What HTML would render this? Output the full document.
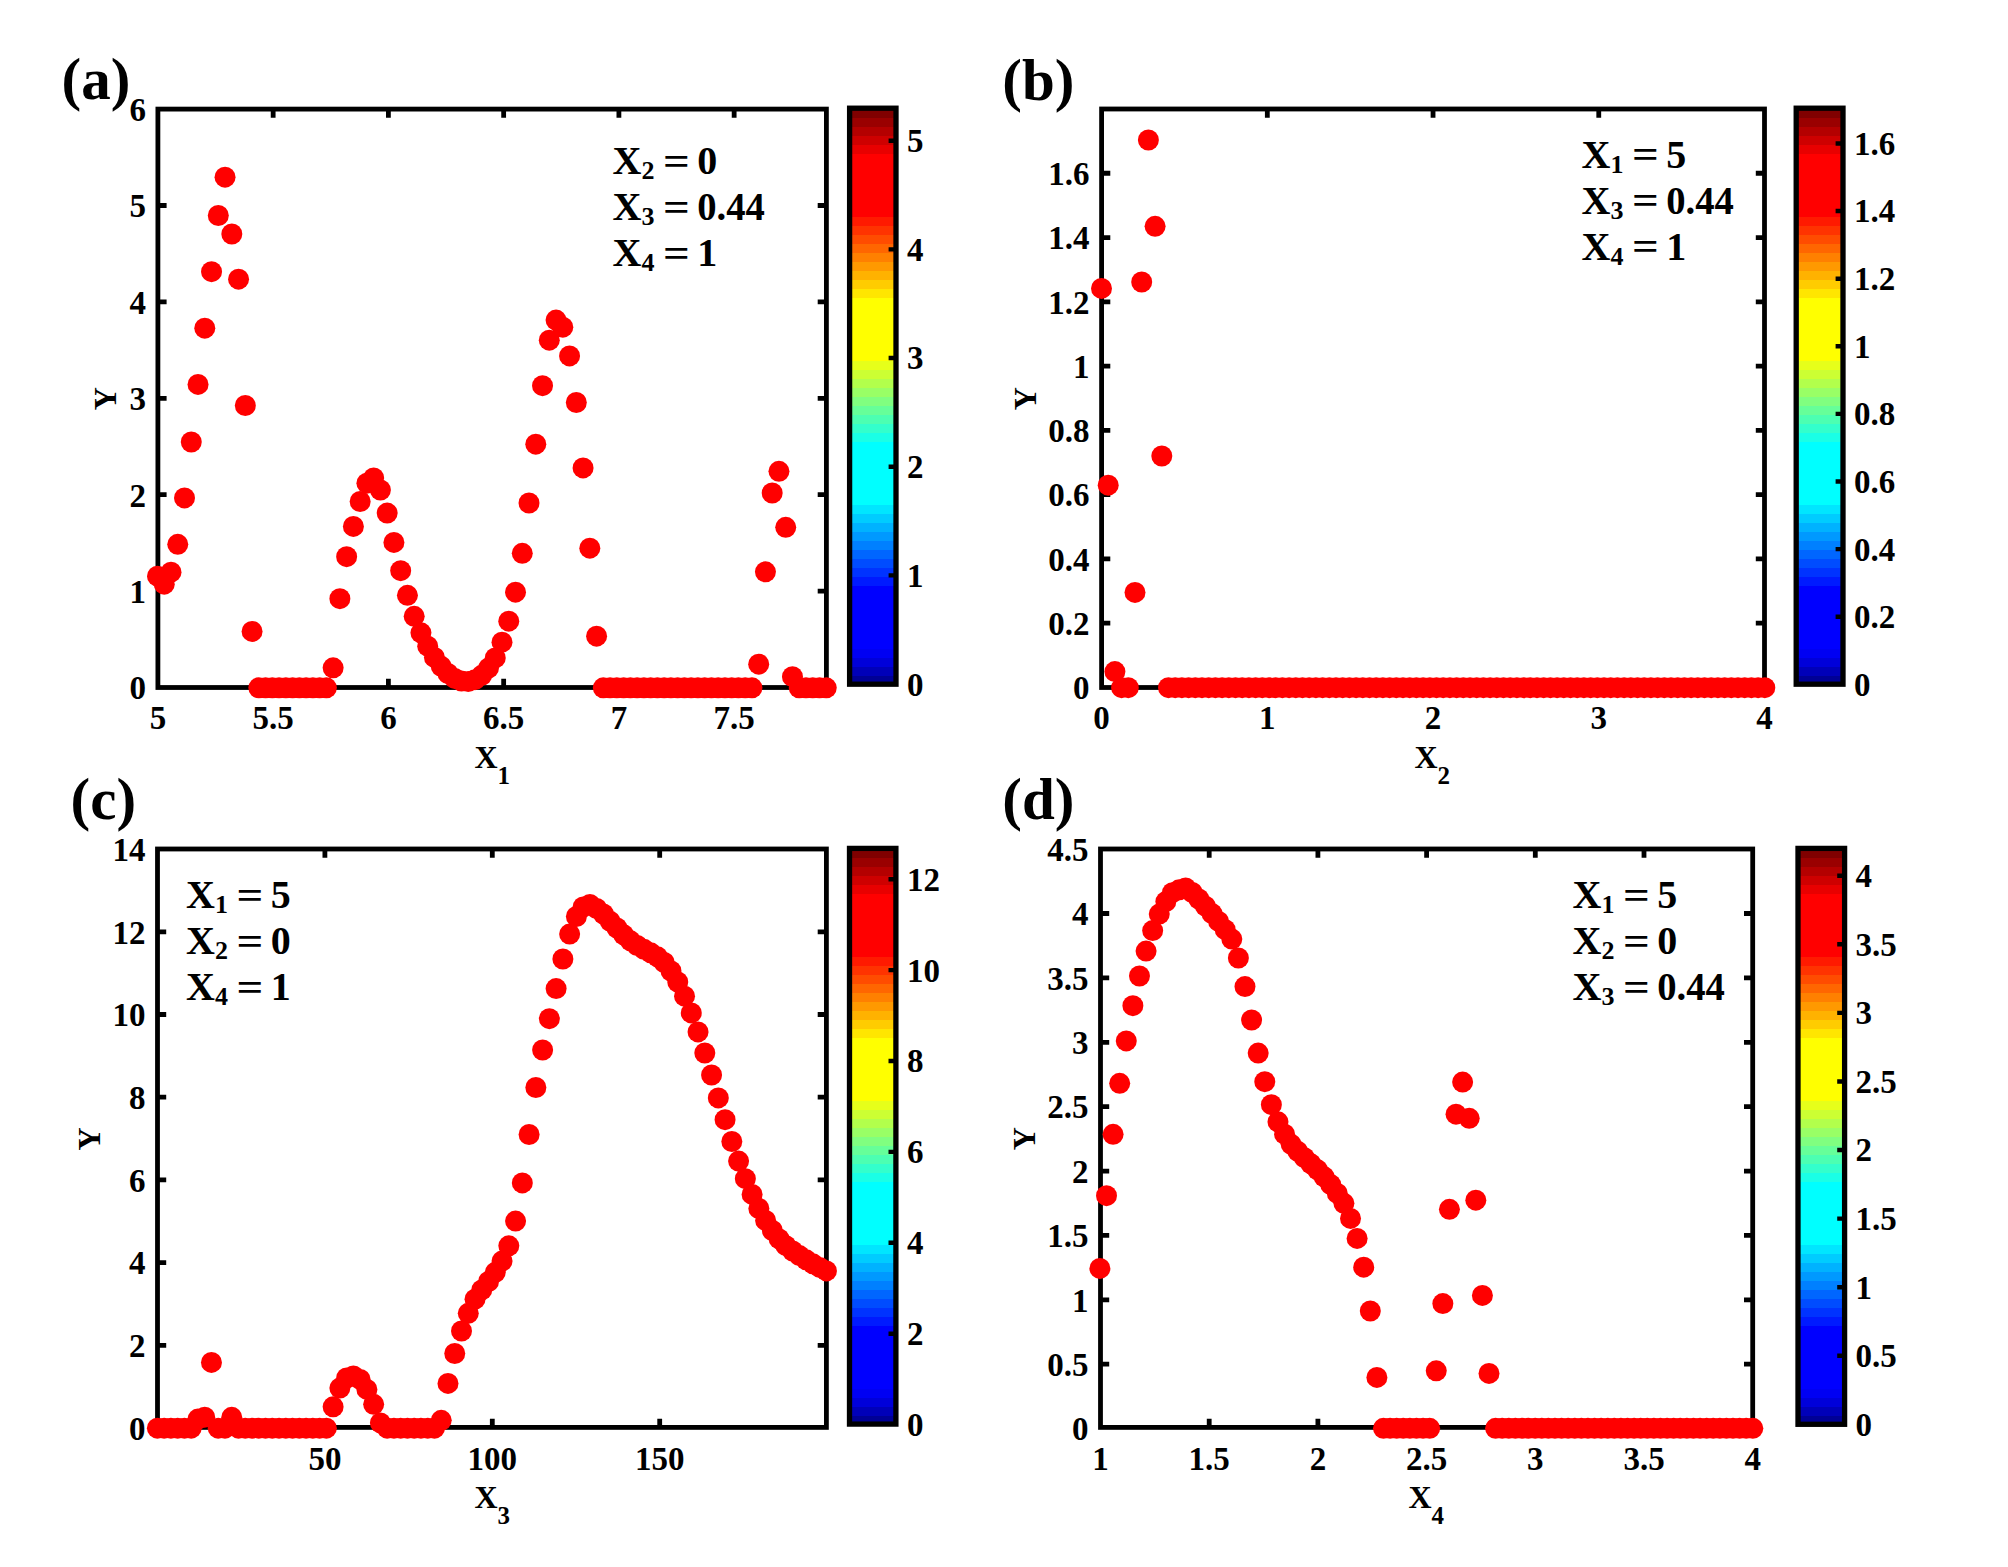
<!DOCTYPE html>
<html lang="en">
<head>
<meta charset="utf-8">
<title>Figure: Y versus X1..X4</title>
<style>html,body{margin:0;padding:0;background:#fff}body{width:2008px;height:1567px;overflow:hidden}svg{display:block}</style>
</head>
<body>
<svg width="2008" height="1567" viewBox="0 0 2008 1567" font-family="'Liberation Serif', 'Times New Roman', serif" font-weight="bold" fill="#000">
<path d="M273.15 687.5v-8.7M273.15 109.1v8.7M388.4 687.5v-8.7M388.4 109.1v8.7M503.65 687.5v-8.7M503.65 109.1v8.7M618.9 687.5v-8.7M618.9 109.1v8.7M734.15 687.5v-8.7M734.15 109.1v8.7M157.9 591.1h8.7M826.4 591.1h-8.7M157.9 494.7h8.7M826.4 494.7h-8.7M157.9 398.3h8.7M826.4 398.3h-8.7M157.9 301.9h8.7M826.4 301.9h-8.7M157.9 205.5h8.7M826.4 205.5h-8.7" stroke="#000" stroke-width="4.8" fill="none"/>
<rect x="157.9" y="109.1" width="668.5" height="578.4" fill="none" stroke="#000" stroke-width="4.8"/>
<text x="157.9" y="729.2" font-size="33" text-anchor="middle">5</text>
<text x="273.15" y="729.2" font-size="33" text-anchor="middle">5.5</text>
<text x="388.4" y="729.2" font-size="33" text-anchor="middle">6</text>
<text x="503.65" y="729.2" font-size="33" text-anchor="middle">6.5</text>
<text x="618.9" y="729.2" font-size="33" text-anchor="middle">7</text>
<text x="734.15" y="729.2" font-size="33" text-anchor="middle">7.5</text>
<text x="145.9" y="699.3" font-size="33" text-anchor="end">0</text>
<text x="145.9" y="602.9" font-size="33" text-anchor="end">1</text>
<text x="145.9" y="506.5" font-size="33" text-anchor="end">2</text>
<text x="145.9" y="410.1" font-size="33" text-anchor="end">3</text>
<text x="145.9" y="313.7" font-size="33" text-anchor="end">4</text>
<text x="145.9" y="217.3" font-size="33" text-anchor="end">5</text>
<text x="145.9" y="120.9" font-size="33" text-anchor="end">6</text>
<g fill="#f00"><circle cx="157.5" cy="576.2" r="10.5"/><circle cx="164.25" cy="584.2" r="10.5"/><circle cx="171.01" cy="572.2" r="10.5"/><circle cx="177.76" cy="544.3" r="10.5"/><circle cx="184.52" cy="497.9" r="10.5"/><circle cx="191.28" cy="442" r="10.5"/><circle cx="198.03" cy="384.4" r="10.5"/><circle cx="204.78" cy="328.2" r="10.5"/><circle cx="211.54" cy="271.7" r="10.5"/><circle cx="218.3" cy="215.5" r="10.5"/><circle cx="225.05" cy="177.2" r="10.5"/><circle cx="231.81" cy="234" r="10.5"/><circle cx="238.56" cy="279.2" r="10.5"/><circle cx="245.31" cy="405.5" r="10.5"/><circle cx="252.07" cy="631.4" r="10.5"/><circle cx="258.82" cy="687.8" r="10.5"/><circle cx="265.58" cy="687.8" r="10.5"/><circle cx="272.33" cy="687.8" r="10.5"/><circle cx="279.09" cy="687.8" r="10.5"/><circle cx="285.85" cy="687.8" r="10.5"/><circle cx="292.6" cy="687.8" r="10.5"/><circle cx="299.36" cy="687.8" r="10.5"/><circle cx="306.11" cy="687.8" r="10.5"/><circle cx="312.87" cy="687.8" r="10.5"/><circle cx="319.62" cy="687.8" r="10.5"/><circle cx="326.38" cy="687.8" r="10.5"/><circle cx="333.13" cy="667.8" r="10.5"/><circle cx="339.88" cy="598.7" r="10.5"/><circle cx="346.64" cy="556.7" r="10.5"/><circle cx="353.39" cy="526.4" r="10.5"/><circle cx="360.15" cy="501.5" r="10.5"/><circle cx="366.9" cy="483.2" r="10.5"/><circle cx="373.66" cy="478" r="10.5"/><circle cx="380.41" cy="490" r="10.5"/><circle cx="387.17" cy="513.1" r="10.5"/><circle cx="393.92" cy="542.4" r="10.5"/><circle cx="400.68" cy="570.7" r="10.5"/><circle cx="407.44" cy="595.3" r="10.5"/><circle cx="414.19" cy="616.3" r="10.5"/><circle cx="420.94" cy="632.8" r="10.5"/><circle cx="427.7" cy="646.2" r="10.5"/><circle cx="434.45" cy="657.4" r="10.5"/><circle cx="441.21" cy="666.3" r="10.5"/><circle cx="447.96" cy="673.5" r="10.5"/><circle cx="454.72" cy="678.4" r="10.5"/><circle cx="461.48" cy="681.1" r="10.5"/><circle cx="468.23" cy="681.5" r="10.5"/><circle cx="474.99" cy="679.7" r="10.5"/><circle cx="481.74" cy="675.3" r="10.5"/><circle cx="488.5" cy="668.1" r="10.5"/><circle cx="495.25" cy="657.9" r="10.5"/><circle cx="502" cy="642.2" r="10.5"/><circle cx="508.76" cy="621.2" r="10.5"/><circle cx="515.51" cy="592.2" r="10.5"/><circle cx="522.27" cy="553.3" r="10.5"/><circle cx="529.02" cy="503" r="10.5"/><circle cx="535.78" cy="444.2" r="10.5"/><circle cx="542.53" cy="385.7" r="10.5"/><circle cx="549.29" cy="340.2" r="10.5"/><circle cx="556.05" cy="320.1" r="10.5"/><circle cx="562.8" cy="327.2" r="10.5"/><circle cx="569.56" cy="355.9" r="10.5"/><circle cx="576.31" cy="402.5" r="10.5"/><circle cx="583.07" cy="467.9" r="10.5"/><circle cx="589.82" cy="548.2" r="10.5"/><circle cx="596.58" cy="636.2" r="10.5"/><circle cx="603.33" cy="687.8" r="10.5"/><circle cx="610.09" cy="687.8" r="10.5"/><circle cx="616.84" cy="687.8" r="10.5"/><circle cx="623.6" cy="687.8" r="10.5"/><circle cx="630.35" cy="687.8" r="10.5"/><circle cx="637.11" cy="687.8" r="10.5"/><circle cx="643.86" cy="687.8" r="10.5"/><circle cx="650.62" cy="687.8" r="10.5"/><circle cx="657.37" cy="687.8" r="10.5"/><circle cx="664.12" cy="687.8" r="10.5"/><circle cx="670.88" cy="687.8" r="10.5"/><circle cx="677.63" cy="687.8" r="10.5"/><circle cx="684.39" cy="687.8" r="10.5"/><circle cx="691.14" cy="687.8" r="10.5"/><circle cx="697.9" cy="687.8" r="10.5"/><circle cx="704.65" cy="687.8" r="10.5"/><circle cx="711.41" cy="687.8" r="10.5"/><circle cx="718.16" cy="687.8" r="10.5"/><circle cx="724.92" cy="687.8" r="10.5"/><circle cx="731.67" cy="687.8" r="10.5"/><circle cx="738.43" cy="687.8" r="10.5"/><circle cx="745.18" cy="687.8" r="10.5"/><circle cx="751.94" cy="687.8" r="10.5"/><circle cx="758.69" cy="664.2" r="10.5"/><circle cx="765.45" cy="571.8" r="10.5"/><circle cx="772.21" cy="493" r="10.5"/><circle cx="778.96" cy="471.3" r="10.5"/><circle cx="785.72" cy="527.3" r="10.5"/><circle cx="792.47" cy="676.7" r="10.5"/><circle cx="799.23" cy="687.8" r="10.5"/><circle cx="805.98" cy="687.8" r="10.5"/><circle cx="812.74" cy="687.8" r="10.5"/><circle cx="819.49" cy="687.8" r="10.5"/><circle cx="826.25" cy="687.8" r="10.5"/></g>
<g shape-rendering="crispEdges"><rect x="849.6" y="675.2" width="46.4" height="9.6" fill="rgb(0,0,150)"/><rect x="849.6" y="666.2" width="46.4" height="9.6" fill="rgb(0,0,185)"/><rect x="849.6" y="657.2" width="46.4" height="9.6" fill="rgb(0,0,218)"/><rect x="849.6" y="648.2" width="46.4" height="9.6" fill="rgb(0,0,243)"/><rect x="849.6" y="639.2" width="46.4" height="9.6" fill="rgb(0,0,255)"/><rect x="849.6" y="630.2" width="46.4" height="9.6" fill="rgb(0,0,255)"/><rect x="849.6" y="621.2" width="46.4" height="9.6" fill="rgb(0,0,255)"/><rect x="849.6" y="612.2" width="46.4" height="9.6" fill="rgb(0,0,255)"/><rect x="849.6" y="603.2" width="46.4" height="9.6" fill="rgb(0,0,255)"/><rect x="849.6" y="594.2" width="46.4" height="9.6" fill="rgb(0,0,255)"/><rect x="849.6" y="585.2" width="46.4" height="9.6" fill="rgb(0,0,255)"/><rect x="849.6" y="576.2" width="46.4" height="9.6" fill="rgb(0,26,255)"/><rect x="849.6" y="567.2" width="46.4" height="9.6" fill="rgb(0,51,255)"/><rect x="849.6" y="558.2" width="46.4" height="9.6" fill="rgb(0,76,255)"/><rect x="849.6" y="549.2" width="46.4" height="9.6" fill="rgb(0,102,255)"/><rect x="849.6" y="540.2" width="46.4" height="9.6" fill="rgb(0,128,255)"/><rect x="849.6" y="531.2" width="46.4" height="9.6" fill="rgb(0,153,255)"/><rect x="849.6" y="522.2" width="46.4" height="9.6" fill="rgb(0,178,255)"/><rect x="849.6" y="513.2" width="46.4" height="9.6" fill="rgb(0,204,255)"/><rect x="849.6" y="504.2" width="46.4" height="9.6" fill="rgb(0,230,255)"/><rect x="849.6" y="495.2" width="46.4" height="9.6" fill="rgb(0,255,255)"/><rect x="849.6" y="486.2" width="46.4" height="9.6" fill="rgb(0,255,255)"/><rect x="849.6" y="477.2" width="46.4" height="9.6" fill="rgb(0,255,255)"/><rect x="849.6" y="468.2" width="46.4" height="9.6" fill="rgb(0,255,255)"/><rect x="849.6" y="459.2" width="46.4" height="9.6" fill="rgb(0,255,255)"/><rect x="849.6" y="450.2" width="46.4" height="9.6" fill="rgb(0,255,255)"/><rect x="849.6" y="441.2" width="46.4" height="9.6" fill="rgb(0,255,255)"/><rect x="849.6" y="432.2" width="46.4" height="9.6" fill="rgb(26,255,230)"/><rect x="849.6" y="423.2" width="46.4" height="9.6" fill="rgb(51,255,204)"/><rect x="849.6" y="414.2" width="46.4" height="9.6" fill="rgb(76,255,178)"/><rect x="849.6" y="405.2" width="46.4" height="9.6" fill="rgb(102,255,153)"/><rect x="849.6" y="396.2" width="46.4" height="9.6" fill="rgb(128,255,128)"/><rect x="849.6" y="387.2" width="46.4" height="9.6" fill="rgb(153,255,102)"/><rect x="849.6" y="378.2" width="46.4" height="9.6" fill="rgb(178,255,76)"/><rect x="849.6" y="369.2" width="46.4" height="9.6" fill="rgb(204,255,51)"/><rect x="849.6" y="360.2" width="46.4" height="9.6" fill="rgb(230,255,26)"/><rect x="849.6" y="351.2" width="46.4" height="9.6" fill="rgb(255,255,0)"/><rect x="849.6" y="342.2" width="46.4" height="9.6" fill="rgb(255,255,0)"/><rect x="849.6" y="333.2" width="46.4" height="9.6" fill="rgb(255,255,0)"/><rect x="849.6" y="324.2" width="46.4" height="9.6" fill="rgb(255,255,0)"/><rect x="849.6" y="315.2" width="46.4" height="9.6" fill="rgb(255,255,0)"/><rect x="849.6" y="306.2" width="46.4" height="9.6" fill="rgb(255,255,0)"/><rect x="849.6" y="297.2" width="46.4" height="9.6" fill="rgb(255,255,0)"/><rect x="849.6" y="288.2" width="46.4" height="9.6" fill="rgb(255,230,0)"/><rect x="849.6" y="279.2" width="46.4" height="9.6" fill="rgb(255,204,0)"/><rect x="849.6" y="270.2" width="46.4" height="9.6" fill="rgb(255,178,0)"/><rect x="849.6" y="261.2" width="46.4" height="9.6" fill="rgb(255,153,0)"/><rect x="849.6" y="252.2" width="46.4" height="9.6" fill="rgb(255,128,0)"/><rect x="849.6" y="243.2" width="46.4" height="9.6" fill="rgb(255,102,0)"/><rect x="849.6" y="234.2" width="46.4" height="9.6" fill="rgb(255,76,0)"/><rect x="849.6" y="225.2" width="46.4" height="9.6" fill="rgb(255,51,0)"/><rect x="849.6" y="216.2" width="46.4" height="9.6" fill="rgb(255,26,0)"/><rect x="849.6" y="207.2" width="46.4" height="9.6" fill="rgb(255,0,0)"/><rect x="849.6" y="198.2" width="46.4" height="9.6" fill="rgb(255,0,0)"/><rect x="849.6" y="189.2" width="46.4" height="9.6" fill="rgb(255,0,0)"/><rect x="849.6" y="180.2" width="46.4" height="9.6" fill="rgb(255,0,0)"/><rect x="849.6" y="171.2" width="46.4" height="9.6" fill="rgb(255,0,0)"/><rect x="849.6" y="162.2" width="46.4" height="9.6" fill="rgb(255,0,0)"/><rect x="849.6" y="153.2" width="46.4" height="9.6" fill="rgb(255,0,0)"/><rect x="849.6" y="144.2" width="46.4" height="9.6" fill="rgb(232,0,0)"/><rect x="849.6" y="135.2" width="46.4" height="9.6" fill="rgb(206,0,0)"/><rect x="849.6" y="126.2" width="46.4" height="9.6" fill="rgb(180,0,0)"/><rect x="849.6" y="117.2" width="46.4" height="9.6" fill="rgb(154,0,0)"/><rect x="849.6" y="108.2" width="46.4" height="9.6" fill="rgb(128,0,0)"/></g>
<path d="M896 575.42h-7.4M896 466.74h-7.4M896 358.06h-7.4M896 249.38h-7.4M896 140.7h-7.4" stroke="#000" stroke-width="4.4" fill="none"/>
<rect x="849.6" y="108.2" width="46.4" height="576" fill="none" stroke="#000" stroke-width="5.3"/>
<text x="907" y="695.5" font-size="33" text-anchor="start">0</text>
<text x="907" y="586.82" font-size="33" text-anchor="start">1</text>
<text x="907" y="478.14" font-size="33" text-anchor="start">2</text>
<text x="907" y="369.46" font-size="33" text-anchor="start">3</text>
<text x="907" y="260.78" font-size="33" text-anchor="start">4</text>
<text x="907" y="152.1" font-size="33" text-anchor="start">5</text>
<text x="474.4" y="767.8" font-size="32">X<tspan dy="16" font-size="25">1</tspan></text>
<text transform="translate(116.2 398.6) rotate(-90)" font-size="32" text-anchor="middle">Y</text>
<text x="61.5" y="99.3" font-size="59" text-anchor="start">(a)</text>
<text x="612.5" y="174" font-size="40">X<tspan dy="5" font-size="26">2</tspan></text>
<text x="662.9" y="174.7" font-size="40" textLength="26.8" lengthAdjust="spacingAndGlyphs">=</text>
<text x="697.2" y="174" font-size="40">0</text>
<text x="612.5" y="220" font-size="40">X<tspan dy="5" font-size="26">3</tspan></text>
<text x="662.9" y="220.7" font-size="40" textLength="26.8" lengthAdjust="spacingAndGlyphs">=</text>
<text x="697.2" y="220" font-size="40" textLength="67.6" lengthAdjust="spacingAndGlyphs">0.44</text>
<text x="612.5" y="266" font-size="40">X<tspan dy="5" font-size="26">4</tspan></text>
<text x="662.9" y="266.7" font-size="40" textLength="26.8" lengthAdjust="spacingAndGlyphs">=</text>
<text x="697.2" y="266" font-size="40">1</text>
<path d="M1267.32 687.5v-8.7M1267.32 109v8.7M1433.04 687.5v-8.7M1433.04 109v8.7M1598.76 687.5v-8.7M1598.76 109v8.7M1101.6 623.22h8.7M1764.5 623.22h-8.7M1101.6 558.94h8.7M1764.5 558.94h-8.7M1101.6 494.66h8.7M1764.5 494.66h-8.7M1101.6 430.38h8.7M1764.5 430.38h-8.7M1101.6 366.1h8.7M1764.5 366.1h-8.7M1101.6 301.82h8.7M1764.5 301.82h-8.7M1101.6 237.54h8.7M1764.5 237.54h-8.7M1101.6 173.26h8.7M1764.5 173.26h-8.7" stroke="#000" stroke-width="4.8" fill="none"/>
<rect x="1101.6" y="109" width="662.9" height="578.5" fill="none" stroke="#000" stroke-width="4.8"/>
<text x="1101.6" y="729.2" font-size="33" text-anchor="middle">0</text>
<text x="1267.32" y="729.2" font-size="33" text-anchor="middle">1</text>
<text x="1433.04" y="729.2" font-size="33" text-anchor="middle">2</text>
<text x="1598.76" y="729.2" font-size="33" text-anchor="middle">3</text>
<text x="1764.48" y="729.2" font-size="33" text-anchor="middle">4</text>
<text x="1089.6" y="699.3" font-size="33" text-anchor="end">0</text>
<text x="1089.6" y="635.02" font-size="33" text-anchor="end">0.2</text>
<text x="1089.6" y="570.74" font-size="33" text-anchor="end">0.4</text>
<text x="1089.6" y="506.46" font-size="33" text-anchor="end">0.6</text>
<text x="1089.6" y="442.18" font-size="33" text-anchor="end">0.8</text>
<text x="1089.6" y="377.9" font-size="33" text-anchor="end">1</text>
<text x="1089.6" y="313.62" font-size="33" text-anchor="end">1.2</text>
<text x="1089.6" y="249.34" font-size="33" text-anchor="end">1.4</text>
<text x="1089.6" y="185.06" font-size="33" text-anchor="end">1.6</text>
<g fill="#f00"><circle cx="1101.5" cy="288.4" r="10.5"/><circle cx="1108.2" cy="485.2" r="10.5"/><circle cx="1114.9" cy="671.6" r="10.5"/><circle cx="1121.6" cy="687.7" r="10.5"/><circle cx="1128.3" cy="687.7" r="10.5"/><circle cx="1135" cy="592.4" r="10.5"/><circle cx="1141.7" cy="282" r="10.5"/><circle cx="1148.4" cy="140" r="10.5"/><circle cx="1155.1" cy="226.3" r="10.5"/><circle cx="1161.8" cy="456" r="10.5"/><circle cx="1168.5" cy="687.7" r="10.5"/><circle cx="1175.2" cy="687.7" r="10.5"/><circle cx="1181.9" cy="687.7" r="10.5"/><circle cx="1188.6" cy="687.7" r="10.5"/><circle cx="1195.3" cy="687.7" r="10.5"/><circle cx="1202" cy="687.7" r="10.5"/><circle cx="1208.7" cy="687.7" r="10.5"/><circle cx="1215.4" cy="687.7" r="10.5"/><circle cx="1222.1" cy="687.7" r="10.5"/><circle cx="1228.8" cy="687.7" r="10.5"/><circle cx="1235.5" cy="687.7" r="10.5"/><circle cx="1242.2" cy="687.7" r="10.5"/><circle cx="1248.9" cy="687.7" r="10.5"/><circle cx="1255.6" cy="687.7" r="10.5"/><circle cx="1262.3" cy="687.7" r="10.5"/><circle cx="1269" cy="687.7" r="10.5"/><circle cx="1275.7" cy="687.7" r="10.5"/><circle cx="1282.4" cy="687.7" r="10.5"/><circle cx="1289.1" cy="687.7" r="10.5"/><circle cx="1295.8" cy="687.7" r="10.5"/><circle cx="1302.5" cy="687.7" r="10.5"/><circle cx="1309.2" cy="687.7" r="10.5"/><circle cx="1315.9" cy="687.7" r="10.5"/><circle cx="1322.6" cy="687.7" r="10.5"/><circle cx="1329.3" cy="687.7" r="10.5"/><circle cx="1336" cy="687.7" r="10.5"/><circle cx="1342.7" cy="687.7" r="10.5"/><circle cx="1349.4" cy="687.7" r="10.5"/><circle cx="1356.1" cy="687.7" r="10.5"/><circle cx="1362.8" cy="687.7" r="10.5"/><circle cx="1369.5" cy="687.7" r="10.5"/><circle cx="1376.2" cy="687.7" r="10.5"/><circle cx="1382.9" cy="687.7" r="10.5"/><circle cx="1389.6" cy="687.7" r="10.5"/><circle cx="1396.3" cy="687.7" r="10.5"/><circle cx="1403" cy="687.7" r="10.5"/><circle cx="1409.7" cy="687.7" r="10.5"/><circle cx="1416.4" cy="687.7" r="10.5"/><circle cx="1423.1" cy="687.7" r="10.5"/><circle cx="1429.8" cy="687.7" r="10.5"/><circle cx="1436.5" cy="687.7" r="10.5"/><circle cx="1443.2" cy="687.7" r="10.5"/><circle cx="1449.9" cy="687.7" r="10.5"/><circle cx="1456.6" cy="687.7" r="10.5"/><circle cx="1463.3" cy="687.7" r="10.5"/><circle cx="1470" cy="687.7" r="10.5"/><circle cx="1476.7" cy="687.7" r="10.5"/><circle cx="1483.4" cy="687.7" r="10.5"/><circle cx="1490.1" cy="687.7" r="10.5"/><circle cx="1496.8" cy="687.7" r="10.5"/><circle cx="1503.5" cy="687.7" r="10.5"/><circle cx="1510.2" cy="687.7" r="10.5"/><circle cx="1516.9" cy="687.7" r="10.5"/><circle cx="1523.6" cy="687.7" r="10.5"/><circle cx="1530.3" cy="687.7" r="10.5"/><circle cx="1537" cy="687.7" r="10.5"/><circle cx="1543.7" cy="687.7" r="10.5"/><circle cx="1550.4" cy="687.7" r="10.5"/><circle cx="1557.1" cy="687.7" r="10.5"/><circle cx="1563.8" cy="687.7" r="10.5"/><circle cx="1570.5" cy="687.7" r="10.5"/><circle cx="1577.2" cy="687.7" r="10.5"/><circle cx="1583.9" cy="687.7" r="10.5"/><circle cx="1590.6" cy="687.7" r="10.5"/><circle cx="1597.3" cy="687.7" r="10.5"/><circle cx="1604" cy="687.7" r="10.5"/><circle cx="1610.7" cy="687.7" r="10.5"/><circle cx="1617.4" cy="687.7" r="10.5"/><circle cx="1624.1" cy="687.7" r="10.5"/><circle cx="1630.8" cy="687.7" r="10.5"/><circle cx="1637.5" cy="687.7" r="10.5"/><circle cx="1644.2" cy="687.7" r="10.5"/><circle cx="1650.9" cy="687.7" r="10.5"/><circle cx="1657.6" cy="687.7" r="10.5"/><circle cx="1664.3" cy="687.7" r="10.5"/><circle cx="1671" cy="687.7" r="10.5"/><circle cx="1677.7" cy="687.7" r="10.5"/><circle cx="1684.4" cy="687.7" r="10.5"/><circle cx="1691.1" cy="687.7" r="10.5"/><circle cx="1697.8" cy="687.7" r="10.5"/><circle cx="1704.5" cy="687.7" r="10.5"/><circle cx="1711.2" cy="687.7" r="10.5"/><circle cx="1717.9" cy="687.7" r="10.5"/><circle cx="1724.6" cy="687.7" r="10.5"/><circle cx="1731.3" cy="687.7" r="10.5"/><circle cx="1738" cy="687.7" r="10.5"/><circle cx="1744.7" cy="687.7" r="10.5"/><circle cx="1751.4" cy="687.7" r="10.5"/><circle cx="1758.1" cy="687.7" r="10.5"/><circle cx="1764.8" cy="687.7" r="10.5"/></g>
<g shape-rendering="crispEdges"><rect x="1796.2" y="675.2" width="46.8" height="9.6" fill="rgb(0,0,150)"/><rect x="1796.2" y="666.2" width="46.8" height="9.6" fill="rgb(0,0,185)"/><rect x="1796.2" y="657.2" width="46.8" height="9.6" fill="rgb(0,0,218)"/><rect x="1796.2" y="648.2" width="46.8" height="9.6" fill="rgb(0,0,243)"/><rect x="1796.2" y="639.2" width="46.8" height="9.6" fill="rgb(0,0,255)"/><rect x="1796.2" y="630.2" width="46.8" height="9.6" fill="rgb(0,0,255)"/><rect x="1796.2" y="621.2" width="46.8" height="9.6" fill="rgb(0,0,255)"/><rect x="1796.2" y="612.2" width="46.8" height="9.6" fill="rgb(0,0,255)"/><rect x="1796.2" y="603.2" width="46.8" height="9.6" fill="rgb(0,0,255)"/><rect x="1796.2" y="594.2" width="46.8" height="9.6" fill="rgb(0,0,255)"/><rect x="1796.2" y="585.2" width="46.8" height="9.6" fill="rgb(0,0,255)"/><rect x="1796.2" y="576.2" width="46.8" height="9.6" fill="rgb(0,26,255)"/><rect x="1796.2" y="567.2" width="46.8" height="9.6" fill="rgb(0,51,255)"/><rect x="1796.2" y="558.2" width="46.8" height="9.6" fill="rgb(0,76,255)"/><rect x="1796.2" y="549.2" width="46.8" height="9.6" fill="rgb(0,102,255)"/><rect x="1796.2" y="540.2" width="46.8" height="9.6" fill="rgb(0,128,255)"/><rect x="1796.2" y="531.2" width="46.8" height="9.6" fill="rgb(0,153,255)"/><rect x="1796.2" y="522.2" width="46.8" height="9.6" fill="rgb(0,178,255)"/><rect x="1796.2" y="513.2" width="46.8" height="9.6" fill="rgb(0,204,255)"/><rect x="1796.2" y="504.2" width="46.8" height="9.6" fill="rgb(0,230,255)"/><rect x="1796.2" y="495.2" width="46.8" height="9.6" fill="rgb(0,255,255)"/><rect x="1796.2" y="486.2" width="46.8" height="9.6" fill="rgb(0,255,255)"/><rect x="1796.2" y="477.2" width="46.8" height="9.6" fill="rgb(0,255,255)"/><rect x="1796.2" y="468.2" width="46.8" height="9.6" fill="rgb(0,255,255)"/><rect x="1796.2" y="459.2" width="46.8" height="9.6" fill="rgb(0,255,255)"/><rect x="1796.2" y="450.2" width="46.8" height="9.6" fill="rgb(0,255,255)"/><rect x="1796.2" y="441.2" width="46.8" height="9.6" fill="rgb(0,255,255)"/><rect x="1796.2" y="432.2" width="46.8" height="9.6" fill="rgb(26,255,230)"/><rect x="1796.2" y="423.2" width="46.8" height="9.6" fill="rgb(51,255,204)"/><rect x="1796.2" y="414.2" width="46.8" height="9.6" fill="rgb(76,255,178)"/><rect x="1796.2" y="405.2" width="46.8" height="9.6" fill="rgb(102,255,153)"/><rect x="1796.2" y="396.2" width="46.8" height="9.6" fill="rgb(128,255,128)"/><rect x="1796.2" y="387.2" width="46.8" height="9.6" fill="rgb(153,255,102)"/><rect x="1796.2" y="378.2" width="46.8" height="9.6" fill="rgb(178,255,76)"/><rect x="1796.2" y="369.2" width="46.8" height="9.6" fill="rgb(204,255,51)"/><rect x="1796.2" y="360.2" width="46.8" height="9.6" fill="rgb(230,255,26)"/><rect x="1796.2" y="351.2" width="46.8" height="9.6" fill="rgb(255,255,0)"/><rect x="1796.2" y="342.2" width="46.8" height="9.6" fill="rgb(255,255,0)"/><rect x="1796.2" y="333.2" width="46.8" height="9.6" fill="rgb(255,255,0)"/><rect x="1796.2" y="324.2" width="46.8" height="9.6" fill="rgb(255,255,0)"/><rect x="1796.2" y="315.2" width="46.8" height="9.6" fill="rgb(255,255,0)"/><rect x="1796.2" y="306.2" width="46.8" height="9.6" fill="rgb(255,255,0)"/><rect x="1796.2" y="297.2" width="46.8" height="9.6" fill="rgb(255,255,0)"/><rect x="1796.2" y="288.2" width="46.8" height="9.6" fill="rgb(255,230,0)"/><rect x="1796.2" y="279.2" width="46.8" height="9.6" fill="rgb(255,204,0)"/><rect x="1796.2" y="270.2" width="46.8" height="9.6" fill="rgb(255,178,0)"/><rect x="1796.2" y="261.2" width="46.8" height="9.6" fill="rgb(255,153,0)"/><rect x="1796.2" y="252.2" width="46.8" height="9.6" fill="rgb(255,128,0)"/><rect x="1796.2" y="243.2" width="46.8" height="9.6" fill="rgb(255,102,0)"/><rect x="1796.2" y="234.2" width="46.8" height="9.6" fill="rgb(255,76,0)"/><rect x="1796.2" y="225.2" width="46.8" height="9.6" fill="rgb(255,51,0)"/><rect x="1796.2" y="216.2" width="46.8" height="9.6" fill="rgb(255,26,0)"/><rect x="1796.2" y="207.2" width="46.8" height="9.6" fill="rgb(255,0,0)"/><rect x="1796.2" y="198.2" width="46.8" height="9.6" fill="rgb(255,0,0)"/><rect x="1796.2" y="189.2" width="46.8" height="9.6" fill="rgb(255,0,0)"/><rect x="1796.2" y="180.2" width="46.8" height="9.6" fill="rgb(255,0,0)"/><rect x="1796.2" y="171.2" width="46.8" height="9.6" fill="rgb(255,0,0)"/><rect x="1796.2" y="162.2" width="46.8" height="9.6" fill="rgb(255,0,0)"/><rect x="1796.2" y="153.2" width="46.8" height="9.6" fill="rgb(255,0,0)"/><rect x="1796.2" y="144.2" width="46.8" height="9.6" fill="rgb(232,0,0)"/><rect x="1796.2" y="135.2" width="46.8" height="9.6" fill="rgb(206,0,0)"/><rect x="1796.2" y="126.2" width="46.8" height="9.6" fill="rgb(180,0,0)"/><rect x="1796.2" y="117.2" width="46.8" height="9.6" fill="rgb(154,0,0)"/><rect x="1796.2" y="108.2" width="46.8" height="9.6" fill="rgb(128,0,0)"/></g>
<path d="M1843 616.78h-7.4M1843 549.16h-7.4M1843 481.54h-7.4M1843 413.92h-7.4M1843 346.3h-7.4M1843 278.68h-7.4M1843 211.06h-7.4M1843 143.44h-7.4" stroke="#000" stroke-width="4.4" fill="none"/>
<rect x="1796.2" y="108.2" width="46.8" height="576" fill="none" stroke="#000" stroke-width="5.3"/>
<text x="1854" y="695.8" font-size="33" text-anchor="start">0</text>
<text x="1854" y="628.18" font-size="33" text-anchor="start">0.2</text>
<text x="1854" y="560.56" font-size="33" text-anchor="start">0.4</text>
<text x="1854" y="492.94" font-size="33" text-anchor="start">0.6</text>
<text x="1854" y="425.32" font-size="33" text-anchor="start">0.8</text>
<text x="1854" y="357.7" font-size="33" text-anchor="start">1</text>
<text x="1854" y="290.08" font-size="33" text-anchor="start">1.2</text>
<text x="1854" y="222.46" font-size="33" text-anchor="start">1.4</text>
<text x="1854" y="154.84" font-size="33" text-anchor="start">1.6</text>
<text x="1414.4" y="767.8" font-size="32">X<tspan dy="16" font-size="25">2</tspan></text>
<text transform="translate(1036.1 398.6) rotate(-90)" font-size="32" text-anchor="middle">Y</text>
<text x="1002.3" y="99.5" font-size="59" text-anchor="start">(b)</text>
<text x="1581.5" y="167.5" font-size="40">X<tspan dy="5" font-size="26">1</tspan></text>
<text x="1631.9" y="168.2" font-size="40" textLength="26.8" lengthAdjust="spacingAndGlyphs">=</text>
<text x="1666.2" y="167.5" font-size="40">5</text>
<text x="1581.5" y="213.5" font-size="40">X<tspan dy="5" font-size="26">3</tspan></text>
<text x="1631.9" y="214.2" font-size="40" textLength="26.8" lengthAdjust="spacingAndGlyphs">=</text>
<text x="1666.2" y="213.5" font-size="40" textLength="67.6" lengthAdjust="spacingAndGlyphs">0.44</text>
<text x="1581.5" y="259.5" font-size="40">X<tspan dy="5" font-size="26">4</tspan></text>
<text x="1631.9" y="260.2" font-size="40" textLength="26.8" lengthAdjust="spacingAndGlyphs">=</text>
<text x="1666.2" y="259.5" font-size="40">1</text>
<path d="M324.9 1427.4v-8.7M324.9 849v8.7M492.3 1427.4v-8.7M492.3 849v8.7M659.7 1427.4v-8.7M659.7 849v8.7M157.5 1345.38h8.7M826.4 1345.38h-8.7M157.5 1262.66h8.7M826.4 1262.66h-8.7M157.5 1179.94h8.7M826.4 1179.94h-8.7M157.5 1097.22h8.7M826.4 1097.22h-8.7M157.5 1014.5h8.7M826.4 1014.5h-8.7M157.5 931.78h8.7M826.4 931.78h-8.7" stroke="#000" stroke-width="4.8" fill="none"/>
<rect x="157.5" y="849" width="668.9" height="578.4" fill="none" stroke="#000" stroke-width="4.8"/>
<text x="324.9" y="1469.8" font-size="33" text-anchor="middle">50</text>
<text x="492.3" y="1469.8" font-size="33" text-anchor="middle">100</text>
<text x="659.7" y="1469.8" font-size="33" text-anchor="middle">150</text>
<text x="145.5" y="1439.9" font-size="33" text-anchor="end">0</text>
<text x="145.5" y="1357.18" font-size="33" text-anchor="end">2</text>
<text x="145.5" y="1274.46" font-size="33" text-anchor="end">4</text>
<text x="145.5" y="1191.74" font-size="33" text-anchor="end">6</text>
<text x="145.5" y="1109.02" font-size="33" text-anchor="end">8</text>
<text x="145.5" y="1026.3" font-size="33" text-anchor="end">10</text>
<text x="145.5" y="943.58" font-size="33" text-anchor="end">12</text>
<text x="145.5" y="860.86" font-size="33" text-anchor="end">14</text>
<g fill="#f00"><circle cx="157.4" cy="1428.2" r="10.5"/><circle cx="164.16" cy="1428.2" r="10.5"/><circle cx="170.92" cy="1428.2" r="10.5"/><circle cx="177.67" cy="1428.2" r="10.5"/><circle cx="184.43" cy="1428.2" r="10.5"/><circle cx="191.19" cy="1428.2" r="10.5"/><circle cx="197.95" cy="1419.1" r="10.5"/><circle cx="204.71" cy="1417.2" r="10.5"/><circle cx="211.46" cy="1362.4" r="10.5"/><circle cx="218.22" cy="1428.2" r="10.5"/><circle cx="224.98" cy="1428.2" r="10.5"/><circle cx="231.74" cy="1417.3" r="10.5"/><circle cx="238.5" cy="1428.2" r="10.5"/><circle cx="245.25" cy="1428.2" r="10.5"/><circle cx="252.01" cy="1428.2" r="10.5"/><circle cx="258.77" cy="1428.2" r="10.5"/><circle cx="265.53" cy="1428.2" r="10.5"/><circle cx="272.29" cy="1428.2" r="10.5"/><circle cx="279.04" cy="1428.2" r="10.5"/><circle cx="285.8" cy="1428.2" r="10.5"/><circle cx="292.56" cy="1428.2" r="10.5"/><circle cx="299.32" cy="1428.2" r="10.5"/><circle cx="306.08" cy="1428.2" r="10.5"/><circle cx="312.83" cy="1428.2" r="10.5"/><circle cx="319.59" cy="1428.2" r="10.5"/><circle cx="326.35" cy="1428.2" r="10.5"/><circle cx="333.11" cy="1406.8" r="10.5"/><circle cx="339.87" cy="1388.1" r="10.5"/><circle cx="346.62" cy="1378" r="10.5"/><circle cx="353.38" cy="1375.9" r="10.5"/><circle cx="360.14" cy="1379.4" r="10.5"/><circle cx="366.9" cy="1389.4" r="10.5"/><circle cx="373.66" cy="1404.3" r="10.5"/><circle cx="380.41" cy="1422.9" r="10.5"/><circle cx="387.17" cy="1428.2" r="10.5"/><circle cx="393.93" cy="1428.2" r="10.5"/><circle cx="400.69" cy="1428.2" r="10.5"/><circle cx="407.45" cy="1428.2" r="10.5"/><circle cx="414.2" cy="1428.2" r="10.5"/><circle cx="420.96" cy="1428.2" r="10.5"/><circle cx="427.72" cy="1428.2" r="10.5"/><circle cx="434.48" cy="1428.2" r="10.5"/><circle cx="441.24" cy="1420.3" r="10.5"/><circle cx="447.99" cy="1383.4" r="10.5"/><circle cx="454.75" cy="1353.5" r="10.5"/><circle cx="461.51" cy="1331" r="10.5"/><circle cx="468.27" cy="1313.3" r="10.5"/><circle cx="475.03" cy="1299.2" r="10.5"/><circle cx="481.78" cy="1289.9" r="10.5"/><circle cx="488.54" cy="1281.5" r="10.5"/><circle cx="495.3" cy="1272.3" r="10.5"/><circle cx="502.06" cy="1261.1" r="10.5"/><circle cx="508.82" cy="1245.8" r="10.5"/><circle cx="515.57" cy="1221.1" r="10.5"/><circle cx="522.33" cy="1182.9" r="10.5"/><circle cx="529.09" cy="1134.5" r="10.5"/><circle cx="535.85" cy="1087.5" r="10.5"/><circle cx="542.61" cy="1050" r="10.5"/><circle cx="549.36" cy="1018.7" r="10.5"/><circle cx="556.12" cy="988.6" r="10.5"/><circle cx="562.88" cy="959" r="10.5"/><circle cx="569.64" cy="934.1" r="10.5"/><circle cx="576.4" cy="916.5" r="10.5"/><circle cx="583.15" cy="907" r="10.5"/><circle cx="589.91" cy="904.4" r="10.5"/><circle cx="596.67" cy="908.5" r="10.5"/><circle cx="603.43" cy="914" r="10.5"/><circle cx="610.19" cy="921.3" r="10.5"/><circle cx="616.94" cy="928" r="10.5"/><circle cx="623.7" cy="934.8" r="10.5"/><circle cx="630.46" cy="940.8" r="10.5"/><circle cx="637.22" cy="945.5" r="10.5"/><circle cx="643.98" cy="949.3" r="10.5"/><circle cx="650.73" cy="952.8" r="10.5"/><circle cx="657.49" cy="956.8" r="10.5"/><circle cx="664.25" cy="962.5" r="10.5"/><circle cx="671.01" cy="971" r="10.5"/><circle cx="677.77" cy="982" r="10.5"/><circle cx="684.52" cy="996.2" r="10.5"/><circle cx="691.28" cy="1012.9" r="10.5"/><circle cx="698.04" cy="1031.9" r="10.5"/><circle cx="704.8" cy="1053" r="10.5"/><circle cx="711.56" cy="1075" r="10.5"/><circle cx="718.31" cy="1097.9" r="10.5"/><circle cx="725.07" cy="1119.7" r="10.5"/><circle cx="731.83" cy="1141.5" r="10.5"/><circle cx="738.59" cy="1161.1" r="10.5"/><circle cx="745.35" cy="1178.7" r="10.5"/><circle cx="752.1" cy="1194.4" r="10.5"/><circle cx="758.86" cy="1208.5" r="10.5"/><circle cx="765.62" cy="1220.4" r="10.5"/><circle cx="772.38" cy="1230.5" r="10.5"/><circle cx="779.14" cy="1238.9" r="10.5"/><circle cx="785.89" cy="1245.7" r="10.5"/><circle cx="792.65" cy="1251" r="10.5"/><circle cx="799.41" cy="1255.6" r="10.5"/><circle cx="806.17" cy="1259.8" r="10.5"/><circle cx="812.93" cy="1263.8" r="10.5"/><circle cx="819.68" cy="1267.4" r="10.5"/><circle cx="826.44" cy="1270.9" r="10.5"/></g>
<g shape-rendering="crispEdges"><rect x="849.5" y="1415.1" width="46.4" height="9.6" fill="rgb(0,0,150)"/><rect x="849.5" y="1406.11" width="46.4" height="9.6" fill="rgb(0,0,185)"/><rect x="849.5" y="1397.11" width="46.4" height="9.6" fill="rgb(0,0,218)"/><rect x="849.5" y="1388.12" width="46.4" height="9.6" fill="rgb(0,0,243)"/><rect x="849.5" y="1379.12" width="46.4" height="9.6" fill="rgb(0,0,255)"/><rect x="849.5" y="1370.13" width="46.4" height="9.6" fill="rgb(0,0,255)"/><rect x="849.5" y="1361.13" width="46.4" height="9.6" fill="rgb(0,0,255)"/><rect x="849.5" y="1352.14" width="46.4" height="9.6" fill="rgb(0,0,255)"/><rect x="849.5" y="1343.14" width="46.4" height="9.6" fill="rgb(0,0,255)"/><rect x="849.5" y="1334.15" width="46.4" height="9.6" fill="rgb(0,0,255)"/><rect x="849.5" y="1325.15" width="46.4" height="9.6" fill="rgb(0,0,255)"/><rect x="849.5" y="1316.16" width="46.4" height="9.6" fill="rgb(0,26,255)"/><rect x="849.5" y="1307.16" width="46.4" height="9.6" fill="rgb(0,51,255)"/><rect x="849.5" y="1298.17" width="46.4" height="9.6" fill="rgb(0,76,255)"/><rect x="849.5" y="1289.17" width="46.4" height="9.6" fill="rgb(0,102,255)"/><rect x="849.5" y="1280.17" width="46.4" height="9.6" fill="rgb(0,128,255)"/><rect x="849.5" y="1271.18" width="46.4" height="9.6" fill="rgb(0,153,255)"/><rect x="849.5" y="1262.18" width="46.4" height="9.6" fill="rgb(0,178,255)"/><rect x="849.5" y="1253.19" width="46.4" height="9.6" fill="rgb(0,204,255)"/><rect x="849.5" y="1244.19" width="46.4" height="9.6" fill="rgb(0,230,255)"/><rect x="849.5" y="1235.2" width="46.4" height="9.6" fill="rgb(0,255,255)"/><rect x="849.5" y="1226.2" width="46.4" height="9.6" fill="rgb(0,255,255)"/><rect x="849.5" y="1217.21" width="46.4" height="9.6" fill="rgb(0,255,255)"/><rect x="849.5" y="1208.21" width="46.4" height="9.6" fill="rgb(0,255,255)"/><rect x="849.5" y="1199.22" width="46.4" height="9.6" fill="rgb(0,255,255)"/><rect x="849.5" y="1190.22" width="46.4" height="9.6" fill="rgb(0,255,255)"/><rect x="849.5" y="1181.23" width="46.4" height="9.6" fill="rgb(0,255,255)"/><rect x="849.5" y="1172.23" width="46.4" height="9.6" fill="rgb(26,255,230)"/><rect x="849.5" y="1163.24" width="46.4" height="9.6" fill="rgb(51,255,204)"/><rect x="849.5" y="1154.24" width="46.4" height="9.6" fill="rgb(76,255,178)"/><rect x="849.5" y="1145.25" width="46.4" height="9.6" fill="rgb(102,255,153)"/><rect x="849.5" y="1136.25" width="46.4" height="9.6" fill="rgb(128,255,128)"/><rect x="849.5" y="1127.25" width="46.4" height="9.6" fill="rgb(153,255,102)"/><rect x="849.5" y="1118.26" width="46.4" height="9.6" fill="rgb(178,255,76)"/><rect x="849.5" y="1109.26" width="46.4" height="9.6" fill="rgb(204,255,51)"/><rect x="849.5" y="1100.27" width="46.4" height="9.6" fill="rgb(230,255,26)"/><rect x="849.5" y="1091.27" width="46.4" height="9.6" fill="rgb(255,255,0)"/><rect x="849.5" y="1082.28" width="46.4" height="9.6" fill="rgb(255,255,0)"/><rect x="849.5" y="1073.28" width="46.4" height="9.6" fill="rgb(255,255,0)"/><rect x="849.5" y="1064.29" width="46.4" height="9.6" fill="rgb(255,255,0)"/><rect x="849.5" y="1055.29" width="46.4" height="9.6" fill="rgb(255,255,0)"/><rect x="849.5" y="1046.3" width="46.4" height="9.6" fill="rgb(255,255,0)"/><rect x="849.5" y="1037.3" width="46.4" height="9.6" fill="rgb(255,255,0)"/><rect x="849.5" y="1028.31" width="46.4" height="9.6" fill="rgb(255,230,0)"/><rect x="849.5" y="1019.31" width="46.4" height="9.6" fill="rgb(255,204,0)"/><rect x="849.5" y="1010.32" width="46.4" height="9.6" fill="rgb(255,178,0)"/><rect x="849.5" y="1001.32" width="46.4" height="9.6" fill="rgb(255,153,0)"/><rect x="849.5" y="992.32" width="46.4" height="9.6" fill="rgb(255,128,0)"/><rect x="849.5" y="983.33" width="46.4" height="9.6" fill="rgb(255,102,0)"/><rect x="849.5" y="974.33" width="46.4" height="9.6" fill="rgb(255,76,0)"/><rect x="849.5" y="965.34" width="46.4" height="9.6" fill="rgb(255,51,0)"/><rect x="849.5" y="956.34" width="46.4" height="9.6" fill="rgb(255,26,0)"/><rect x="849.5" y="947.35" width="46.4" height="9.6" fill="rgb(255,0,0)"/><rect x="849.5" y="938.35" width="46.4" height="9.6" fill="rgb(255,0,0)"/><rect x="849.5" y="929.36" width="46.4" height="9.6" fill="rgb(255,0,0)"/><rect x="849.5" y="920.36" width="46.4" height="9.6" fill="rgb(255,0,0)"/><rect x="849.5" y="911.37" width="46.4" height="9.6" fill="rgb(255,0,0)"/><rect x="849.5" y="902.37" width="46.4" height="9.6" fill="rgb(255,0,0)"/><rect x="849.5" y="893.38" width="46.4" height="9.6" fill="rgb(255,0,0)"/><rect x="849.5" y="884.38" width="46.4" height="9.6" fill="rgb(232,0,0)"/><rect x="849.5" y="875.39" width="46.4" height="9.6" fill="rgb(206,0,0)"/><rect x="849.5" y="866.39" width="46.4" height="9.6" fill="rgb(180,0,0)"/><rect x="849.5" y="857.4" width="46.4" height="9.6" fill="rgb(154,0,0)"/><rect x="849.5" y="848.4" width="46.4" height="9.6" fill="rgb(128,0,0)"/></g>
<path d="M895.9 1333.7h-7.4M895.9 1242.8h-7.4M895.9 1151.9h-7.4M895.9 1061h-7.4M895.9 970.1h-7.4M895.9 879.2h-7.4" stroke="#000" stroke-width="4.4" fill="none"/>
<rect x="849.5" y="848.4" width="46.4" height="575.7" fill="none" stroke="#000" stroke-width="5.3"/>
<text x="906.9" y="1436" font-size="33" text-anchor="start">0</text>
<text x="906.9" y="1345.1" font-size="33" text-anchor="start">2</text>
<text x="906.9" y="1254.2" font-size="33" text-anchor="start">4</text>
<text x="906.9" y="1163.3" font-size="33" text-anchor="start">6</text>
<text x="906.9" y="1072.4" font-size="33" text-anchor="start">8</text>
<text x="906.9" y="981.5" font-size="33" text-anchor="start">10</text>
<text x="906.9" y="890.6" font-size="33" text-anchor="start">12</text>
<text x="474.4" y="1507.9" font-size="32">X<tspan dy="16" font-size="25">3</tspan></text>
<text transform="translate(99.7 1138.9) rotate(-90)" font-size="32" text-anchor="middle">Y</text>
<text x="70.6" y="819" font-size="59" text-anchor="start">(c)</text>
<text x="186.1" y="908" font-size="40">X<tspan dy="5" font-size="26">1</tspan></text>
<text x="236.5" y="908.7" font-size="40" textLength="26.8" lengthAdjust="spacingAndGlyphs">=</text>
<text x="270.8" y="908" font-size="40">5</text>
<text x="186.1" y="954" font-size="40">X<tspan dy="5" font-size="26">2</tspan></text>
<text x="236.5" y="954.7" font-size="40" textLength="26.8" lengthAdjust="spacingAndGlyphs">=</text>
<text x="270.8" y="954" font-size="40">0</text>
<text x="186.1" y="1000" font-size="40">X<tspan dy="5" font-size="26">4</tspan></text>
<text x="236.5" y="1000.7" font-size="40" textLength="26.8" lengthAdjust="spacingAndGlyphs">=</text>
<text x="270.8" y="1000" font-size="40">1</text>
<path d="M1209.2 1427.4v-8.7M1209.2 849v8.7M1317.9 1427.4v-8.7M1317.9 849v8.7M1426.6 1427.4v-8.7M1426.6 849v8.7M1535.3 1427.4v-8.7M1535.3 849v8.7M1644 1427.4v-8.7M1644 849v8.7M1100.5 1364.21h8.7M1752.7 1364.21h-8.7M1100.5 1299.83h8.7M1752.7 1299.83h-8.7M1100.5 1235.44h8.7M1752.7 1235.44h-8.7M1100.5 1171.06h8.7M1752.7 1171.06h-8.7M1100.5 1106.67h8.7M1752.7 1106.67h-8.7M1100.5 1042.29h8.7M1752.7 1042.29h-8.7M1100.5 977.9h8.7M1752.7 977.9h-8.7M1100.5 913.52h8.7M1752.7 913.52h-8.7" stroke="#000" stroke-width="4.8" fill="none"/>
<rect x="1100.5" y="849" width="652.2" height="578.4" fill="none" stroke="#000" stroke-width="4.8"/>
<text x="1100.5" y="1469.7" font-size="33" text-anchor="middle">1</text>
<text x="1209.2" y="1469.7" font-size="33" text-anchor="middle">1.5</text>
<text x="1317.9" y="1469.7" font-size="33" text-anchor="middle">2</text>
<text x="1426.6" y="1469.7" font-size="33" text-anchor="middle">2.5</text>
<text x="1535.3" y="1469.7" font-size="33" text-anchor="middle">3</text>
<text x="1644" y="1469.7" font-size="33" text-anchor="middle">3.5</text>
<text x="1752.7" y="1469.7" font-size="33" text-anchor="middle">4</text>
<text x="1088.5" y="1440.4" font-size="33" text-anchor="end">0</text>
<text x="1088.5" y="1376.01" font-size="33" text-anchor="end">0.5</text>
<text x="1088.5" y="1311.63" font-size="33" text-anchor="end">1</text>
<text x="1088.5" y="1247.24" font-size="33" text-anchor="end">1.5</text>
<text x="1088.5" y="1182.86" font-size="33" text-anchor="end">2</text>
<text x="1088.5" y="1118.47" font-size="33" text-anchor="end">2.5</text>
<text x="1088.5" y="1054.09" font-size="33" text-anchor="end">3</text>
<text x="1088.5" y="989.7" font-size="33" text-anchor="end">3.5</text>
<text x="1088.5" y="925.32" font-size="33" text-anchor="end">4</text>
<text x="1088.5" y="860.93" font-size="33" text-anchor="end">4.5</text>
<g fill="#f00"><circle cx="1099.9" cy="1268.4" r="10.5"/><circle cx="1106.5" cy="1195.7" r="10.5"/><circle cx="1113.09" cy="1134.3" r="10.5"/><circle cx="1119.69" cy="1083.3" r="10.5"/><circle cx="1126.28" cy="1040.9" r="10.5"/><circle cx="1132.88" cy="1005.7" r="10.5"/><circle cx="1139.47" cy="976" r="10.5"/><circle cx="1146.07" cy="951.1" r="10.5"/><circle cx="1152.66" cy="930.6" r="10.5"/><circle cx="1159.26" cy="914.1" r="10.5"/><circle cx="1165.85" cy="901.6" r="10.5"/><circle cx="1172.45" cy="892.7" r="10.5"/><circle cx="1179.04" cy="889.8" r="10.5"/><circle cx="1185.63" cy="888" r="10.5"/><circle cx="1192.23" cy="892.5" r="10.5"/><circle cx="1198.83" cy="899" r="10.5"/><circle cx="1205.42" cy="906.2" r="10.5"/><circle cx="1212.02" cy="913.6" r="10.5"/><circle cx="1218.61" cy="921.4" r="10.5"/><circle cx="1225.21" cy="929.7" r="10.5"/><circle cx="1231.8" cy="939.1" r="10.5"/><circle cx="1238.39" cy="958" r="10.5"/><circle cx="1244.99" cy="986.6" r="10.5"/><circle cx="1251.59" cy="1020" r="10.5"/><circle cx="1258.18" cy="1053.1" r="10.5"/><circle cx="1264.78" cy="1081.7" r="10.5"/><circle cx="1271.37" cy="1104.7" r="10.5"/><circle cx="1277.97" cy="1121.8" r="10.5"/><circle cx="1284.56" cy="1134.2" r="10.5"/><circle cx="1291.16" cy="1144.3" r="10.5"/><circle cx="1297.75" cy="1151.3" r="10.5"/><circle cx="1304.35" cy="1157.7" r="10.5"/><circle cx="1310.94" cy="1163.8" r="10.5"/><circle cx="1317.54" cy="1169.8" r="10.5"/><circle cx="1324.13" cy="1176.8" r="10.5"/><circle cx="1330.73" cy="1184.6" r="10.5"/><circle cx="1337.32" cy="1193.4" r="10.5"/><circle cx="1343.91" cy="1203.3" r="10.5"/><circle cx="1350.51" cy="1218.4" r="10.5"/><circle cx="1357.11" cy="1238.4" r="10.5"/><circle cx="1363.7" cy="1267.2" r="10.5"/><circle cx="1370.3" cy="1311" r="10.5"/><circle cx="1376.89" cy="1377.4" r="10.5"/><circle cx="1383.49" cy="1428.3" r="10.5"/><circle cx="1390.08" cy="1428.3" r="10.5"/><circle cx="1396.68" cy="1428.3" r="10.5"/><circle cx="1403.27" cy="1428.3" r="10.5"/><circle cx="1409.87" cy="1428.3" r="10.5"/><circle cx="1416.46" cy="1428.3" r="10.5"/><circle cx="1423.06" cy="1428.3" r="10.5"/><circle cx="1429.65" cy="1428.3" r="10.5"/><circle cx="1436.25" cy="1370.8" r="10.5"/><circle cx="1442.84" cy="1303.6" r="10.5"/><circle cx="1449.43" cy="1209.3" r="10.5"/><circle cx="1456.03" cy="1114.2" r="10.5"/><circle cx="1462.62" cy="1082.1" r="10.5"/><circle cx="1469.22" cy="1118.3" r="10.5"/><circle cx="1475.82" cy="1200.2" r="10.5"/><circle cx="1482.41" cy="1295.4" r="10.5"/><circle cx="1489.01" cy="1373.4" r="10.5"/><circle cx="1495.6" cy="1428.3" r="10.5"/><circle cx="1502.2" cy="1428.3" r="10.5"/><circle cx="1508.79" cy="1428.3" r="10.5"/><circle cx="1515.38" cy="1428.3" r="10.5"/><circle cx="1521.98" cy="1428.3" r="10.5"/><circle cx="1528.58" cy="1428.3" r="10.5"/><circle cx="1535.17" cy="1428.3" r="10.5"/><circle cx="1541.77" cy="1428.3" r="10.5"/><circle cx="1548.36" cy="1428.3" r="10.5"/><circle cx="1554.96" cy="1428.3" r="10.5"/><circle cx="1561.55" cy="1428.3" r="10.5"/><circle cx="1568.14" cy="1428.3" r="10.5"/><circle cx="1574.74" cy="1428.3" r="10.5"/><circle cx="1581.34" cy="1428.3" r="10.5"/><circle cx="1587.93" cy="1428.3" r="10.5"/><circle cx="1594.53" cy="1428.3" r="10.5"/><circle cx="1601.12" cy="1428.3" r="10.5"/><circle cx="1607.72" cy="1428.3" r="10.5"/><circle cx="1614.31" cy="1428.3" r="10.5"/><circle cx="1620.91" cy="1428.3" r="10.5"/><circle cx="1627.5" cy="1428.3" r="10.5"/><circle cx="1634.1" cy="1428.3" r="10.5"/><circle cx="1640.69" cy="1428.3" r="10.5"/><circle cx="1647.29" cy="1428.3" r="10.5"/><circle cx="1653.88" cy="1428.3" r="10.5"/><circle cx="1660.47" cy="1428.3" r="10.5"/><circle cx="1667.07" cy="1428.3" r="10.5"/><circle cx="1673.66" cy="1428.3" r="10.5"/><circle cx="1680.26" cy="1428.3" r="10.5"/><circle cx="1686.86" cy="1428.3" r="10.5"/><circle cx="1693.45" cy="1428.3" r="10.5"/><circle cx="1700.05" cy="1428.3" r="10.5"/><circle cx="1706.64" cy="1428.3" r="10.5"/><circle cx="1713.24" cy="1428.3" r="10.5"/><circle cx="1719.83" cy="1428.3" r="10.5"/><circle cx="1726.43" cy="1428.3" r="10.5"/><circle cx="1733.02" cy="1428.3" r="10.5"/><circle cx="1739.62" cy="1428.3" r="10.5"/><circle cx="1746.21" cy="1428.3" r="10.5"/><circle cx="1752.81" cy="1428.3" r="10.5"/></g>
<g shape-rendering="crispEdges"><rect x="1798" y="1415.3" width="46.6" height="9.6" fill="rgb(0,0,150)"/><rect x="1798" y="1406.3" width="46.6" height="9.6" fill="rgb(0,0,185)"/><rect x="1798" y="1397.3" width="46.6" height="9.6" fill="rgb(0,0,218)"/><rect x="1798" y="1388.31" width="46.6" height="9.6" fill="rgb(0,0,243)"/><rect x="1798" y="1379.31" width="46.6" height="9.6" fill="rgb(0,0,255)"/><rect x="1798" y="1370.31" width="46.6" height="9.6" fill="rgb(0,0,255)"/><rect x="1798" y="1361.31" width="46.6" height="9.6" fill="rgb(0,0,255)"/><rect x="1798" y="1352.31" width="46.6" height="9.6" fill="rgb(0,0,255)"/><rect x="1798" y="1343.31" width="46.6" height="9.6" fill="rgb(0,0,255)"/><rect x="1798" y="1334.32" width="46.6" height="9.6" fill="rgb(0,0,255)"/><rect x="1798" y="1325.32" width="46.6" height="9.6" fill="rgb(0,0,255)"/><rect x="1798" y="1316.32" width="46.6" height="9.6" fill="rgb(0,26,255)"/><rect x="1798" y="1307.32" width="46.6" height="9.6" fill="rgb(0,51,255)"/><rect x="1798" y="1298.32" width="46.6" height="9.6" fill="rgb(0,76,255)"/><rect x="1798" y="1289.32" width="46.6" height="9.6" fill="rgb(0,102,255)"/><rect x="1798" y="1280.33" width="46.6" height="9.6" fill="rgb(0,128,255)"/><rect x="1798" y="1271.33" width="46.6" height="9.6" fill="rgb(0,153,255)"/><rect x="1798" y="1262.33" width="46.6" height="9.6" fill="rgb(0,178,255)"/><rect x="1798" y="1253.33" width="46.6" height="9.6" fill="rgb(0,204,255)"/><rect x="1798" y="1244.33" width="46.6" height="9.6" fill="rgb(0,230,255)"/><rect x="1798" y="1235.33" width="46.6" height="9.6" fill="rgb(0,255,255)"/><rect x="1798" y="1226.33" width="46.6" height="9.6" fill="rgb(0,255,255)"/><rect x="1798" y="1217.34" width="46.6" height="9.6" fill="rgb(0,255,255)"/><rect x="1798" y="1208.34" width="46.6" height="9.6" fill="rgb(0,255,255)"/><rect x="1798" y="1199.34" width="46.6" height="9.6" fill="rgb(0,255,255)"/><rect x="1798" y="1190.34" width="46.6" height="9.6" fill="rgb(0,255,255)"/><rect x="1798" y="1181.34" width="46.6" height="9.6" fill="rgb(0,255,255)"/><rect x="1798" y="1172.34" width="46.6" height="9.6" fill="rgb(26,255,230)"/><rect x="1798" y="1163.35" width="46.6" height="9.6" fill="rgb(51,255,204)"/><rect x="1798" y="1154.35" width="46.6" height="9.6" fill="rgb(76,255,178)"/><rect x="1798" y="1145.35" width="46.6" height="9.6" fill="rgb(102,255,153)"/><rect x="1798" y="1136.35" width="46.6" height="9.6" fill="rgb(128,255,128)"/><rect x="1798" y="1127.35" width="46.6" height="9.6" fill="rgb(153,255,102)"/><rect x="1798" y="1118.35" width="46.6" height="9.6" fill="rgb(178,255,76)"/><rect x="1798" y="1109.35" width="46.6" height="9.6" fill="rgb(204,255,51)"/><rect x="1798" y="1100.36" width="46.6" height="9.6" fill="rgb(230,255,26)"/><rect x="1798" y="1091.36" width="46.6" height="9.6" fill="rgb(255,255,0)"/><rect x="1798" y="1082.36" width="46.6" height="9.6" fill="rgb(255,255,0)"/><rect x="1798" y="1073.36" width="46.6" height="9.6" fill="rgb(255,255,0)"/><rect x="1798" y="1064.36" width="46.6" height="9.6" fill="rgb(255,255,0)"/><rect x="1798" y="1055.36" width="46.6" height="9.6" fill="rgb(255,255,0)"/><rect x="1798" y="1046.37" width="46.6" height="9.6" fill="rgb(255,255,0)"/><rect x="1798" y="1037.37" width="46.6" height="9.6" fill="rgb(255,255,0)"/><rect x="1798" y="1028.37" width="46.6" height="9.6" fill="rgb(255,230,0)"/><rect x="1798" y="1019.37" width="46.6" height="9.6" fill="rgb(255,204,0)"/><rect x="1798" y="1010.37" width="46.6" height="9.6" fill="rgb(255,178,0)"/><rect x="1798" y="1001.37" width="46.6" height="9.6" fill="rgb(255,153,0)"/><rect x="1798" y="992.38" width="46.6" height="9.6" fill="rgb(255,128,0)"/><rect x="1798" y="983.38" width="46.6" height="9.6" fill="rgb(255,102,0)"/><rect x="1798" y="974.38" width="46.6" height="9.6" fill="rgb(255,76,0)"/><rect x="1798" y="965.38" width="46.6" height="9.6" fill="rgb(255,51,0)"/><rect x="1798" y="956.38" width="46.6" height="9.6" fill="rgb(255,26,0)"/><rect x="1798" y="947.38" width="46.6" height="9.6" fill="rgb(255,0,0)"/><rect x="1798" y="938.38" width="46.6" height="9.6" fill="rgb(255,0,0)"/><rect x="1798" y="929.39" width="46.6" height="9.6" fill="rgb(255,0,0)"/><rect x="1798" y="920.39" width="46.6" height="9.6" fill="rgb(255,0,0)"/><rect x="1798" y="911.39" width="46.6" height="9.6" fill="rgb(255,0,0)"/><rect x="1798" y="902.39" width="46.6" height="9.6" fill="rgb(255,0,0)"/><rect x="1798" y="893.39" width="46.6" height="9.6" fill="rgb(255,0,0)"/><rect x="1798" y="884.39" width="46.6" height="9.6" fill="rgb(232,0,0)"/><rect x="1798" y="875.4" width="46.6" height="9.6" fill="rgb(206,0,0)"/><rect x="1798" y="866.4" width="46.6" height="9.6" fill="rgb(180,0,0)"/><rect x="1798" y="857.4" width="46.6" height="9.6" fill="rgb(154,0,0)"/><rect x="1798" y="848.4" width="46.6" height="9.6" fill="rgb(128,0,0)"/></g>
<path d="M1844.6 1355.77h-7.4M1844.6 1287.2h-7.4M1844.6 1218.62h-7.4M1844.6 1150.05h-7.4M1844.6 1081.47h-7.4M1844.6 1012.9h-7.4M1844.6 944.32h-7.4M1844.6 875.75h-7.4" stroke="#000" stroke-width="4.4" fill="none"/>
<rect x="1798" y="848.4" width="46.6" height="575.9" fill="none" stroke="#000" stroke-width="5.3"/>
<text x="1855.6" y="1435.75" font-size="33" text-anchor="start">0</text>
<text x="1855.6" y="1367.17" font-size="33" text-anchor="start">0.5</text>
<text x="1855.6" y="1298.6" font-size="33" text-anchor="start">1</text>
<text x="1855.6" y="1230.03" font-size="33" text-anchor="start">1.5</text>
<text x="1855.6" y="1161.45" font-size="33" text-anchor="start">2</text>
<text x="1855.6" y="1092.88" font-size="33" text-anchor="start">2.5</text>
<text x="1855.6" y="1024.3" font-size="33" text-anchor="start">3</text>
<text x="1855.6" y="955.72" font-size="33" text-anchor="start">3.5</text>
<text x="1855.6" y="887.15" font-size="33" text-anchor="start">4</text>
<text x="1408.4" y="1507.9" font-size="32">X<tspan dy="16" font-size="25">4</tspan></text>
<text transform="translate(1034.7 1138.8) rotate(-90)" font-size="32" text-anchor="middle">Y</text>
<text x="1002.3" y="819" font-size="59" text-anchor="start">(d)</text>
<text x="1572.5" y="908" font-size="40">X<tspan dy="5" font-size="26">1</tspan></text>
<text x="1622.9" y="908.7" font-size="40" textLength="26.8" lengthAdjust="spacingAndGlyphs">=</text>
<text x="1657.2" y="908" font-size="40">5</text>
<text x="1572.5" y="954" font-size="40">X<tspan dy="5" font-size="26">2</tspan></text>
<text x="1622.9" y="954.7" font-size="40" textLength="26.8" lengthAdjust="spacingAndGlyphs">=</text>
<text x="1657.2" y="954" font-size="40">0</text>
<text x="1572.5" y="1000" font-size="40">X<tspan dy="5" font-size="26">3</tspan></text>
<text x="1622.9" y="1000.7" font-size="40" textLength="26.8" lengthAdjust="spacingAndGlyphs">=</text>
<text x="1657.2" y="1000" font-size="40" textLength="67.6" lengthAdjust="spacingAndGlyphs">0.44</text>
</svg>
</body>
</html>
